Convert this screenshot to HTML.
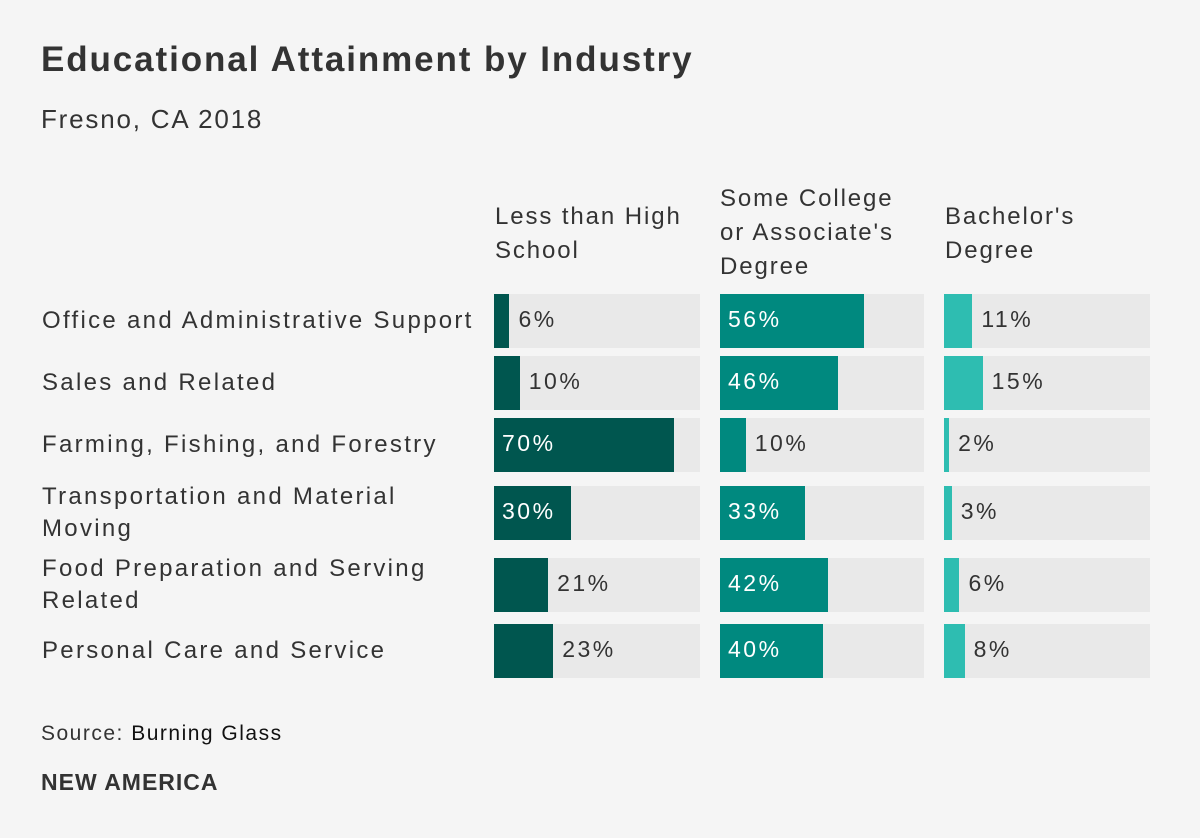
<!DOCTYPE html>
<html><head><meta charset="utf-8"><style>
body{margin:0;background:#f5f5f5;width:1200px;height:838px;overflow:hidden;font-family:"Liberation Sans",sans-serif;color:#333;position:relative}
.t{position:absolute;white-space:nowrap}
</style></head><body>
<div class="t" style="left:41px;top:40px;font-size:35px;font-weight:bold;color:#333;letter-spacing:1.9px">Educational Attainment by Industry</div>
<div class="t" style="left:41px;top:104px;font-size:26px;color:#333;letter-spacing:1.8px">Fresno, CA 2018</div>
<div class="t" style="left:495px;top:200px;font-size:24px;line-height:34px;letter-spacing:1.9px">Less than High<br>School</div>
<div class="t" style="left:720px;top:182px;font-size:24px;line-height:34px;letter-spacing:1.9px">Some College<br>or Associate's<br>Degree</div>
<div class="t" style="left:945px;top:200px;font-size:24px;line-height:34px;letter-spacing:1.9px">Bachelor's<br>Degree</div>
<div id="chart"></div>
<div class="t" style="left:41px;top:722px;font-size:21px;color:#333;letter-spacing:1.5px">Source: <span style="color:#111">Burning Glass</span></div>
<div class="t" style="left:41px;top:769px;font-size:23px;font-weight:bold;color:#333;letter-spacing:1px">NEW AMERICA</div>
<script>
const categories=["Office and Administrative Support","Sales and Related","Farming, Fishing, and Forestry","Transportation and Material Moving","Food Preparation and Serving Related","Personal Care and Service"];
const lessThanHS=[6,10,70,30,21,23];
const someCollege=[56,46,10,33,42,40];
const bachelors=[11,15,2,3,6,8];
const labelLines=[["Office and Administrative Support"],["Sales and Related"],["Farming, Fishing, and Forestry"],["Transportation and Material","Moving"],["Food Preparation and Serving","Related"],["Personal Care and Service"]];
const rowTops=[294,356,418,486,558,624];
const cols=[{x:494,w:206,c:"#00564f",v:lessThanHS,n:"less-than-hs"},{x:720,w:204,c:"#00897f",v:someCollege,n:"some-college"},{x:944,w:206,c:"#2ebdb1",v:bachelors,n:"bachelors"}];
const maxV=80;
const root=document.getElementById('chart');
function sx(v){return v/maxV*206;}
categories.forEach((cat,i)=>{
  const top=rowTops[i];
  const lab=document.createElement('div');
  lab.className='t';
  
  
  const lines=labelLines[i];
  lab.style.cssText=`left:42px;top:${top+27-lines.length*16}px;font-size:24px;line-height:32px;letter-spacing:2.3px`;
  lab.innerHTML=lines.join('<br>');
  root.appendChild(lab);
  cols.forEach(col=>{
    const tr=document.createElement('div');
    
    
    tr.style.cssText=`position:absolute;left:${col.x}px;top:${top}px;width:${col.w}px;height:54px;background:#e9e9e9`;
    root.appendChild(tr);
    const v=col.v[i];const w=sx(v);
    const b=document.createElement('div');
    
    
    b.style.cssText=`position:absolute;left:${col.x}px;top:${top}px;width:${w}px;height:54px;background:${col.c}`;
    root.appendChild(b);
    const inside=w>60;
    const t=document.createElement('div');
    t.className='t';
    
    
    t.style.cssText=`left:${inside?col.x+8:col.x+w+9}px;top:${top+12}px;font-size:23px;letter-spacing:2.5px;color:${inside?'#fff':'#333'}`;
    t.textContent=v+'%';
    root.appendChild(t);
  });
});
</script>
</body></html>
